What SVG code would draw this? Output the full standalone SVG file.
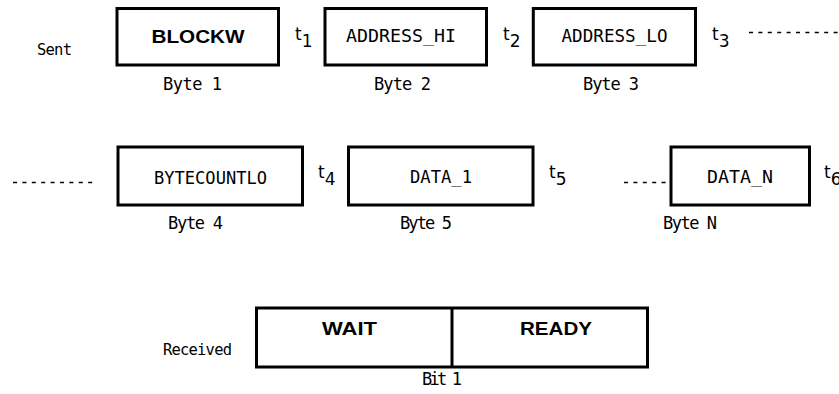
<svg xmlns="http://www.w3.org/2000/svg" width="839" height="394" viewBox="0 0 839 394">
  <style>
    .box { fill: #fff; stroke: #000; stroke-width: 3; }
    .dash { stroke: #000; stroke-width: 1.3; stroke-dasharray: 4 5.4; fill: none; }
    .lbl { font-family: "DejaVu Sans Mono", "Liberation Mono", monospace; font-size: 17px; fill: #000; }
    .side { font-family: "DejaVu Sans Mono", "Liberation Mono", monospace; font-size: 15.5px; fill: #000; }
    .in { font-family: "DejaVu Sans Mono", "Liberation Mono", monospace; font-size: 17px; fill: #000; text-anchor: middle; }
    .bold { font-family: "Liberation Sans", Arial, sans-serif; font-size: 19px; font-weight: bold; fill: #000; text-anchor: middle; }
    .t { font-family: "DejaVu Sans", "Liberation Sans", sans-serif; font-size: 17px; fill: #000; }
    .sub { font-size: 17px; }
  </style>

  <rect width="839" height="394" fill="#fff"/>

  <!-- row labels -->
  <text class="side" x="37" y="55" textLength="35">Sent</text>
  <text class="side" x="163" y="355" textLength="69">Received</text>

  <!-- sent bytes, first row -->
  <g id="byte1">
    <rect class="box" x="117" y="8.5" width="161.5" height="56.5"/>
    <text class="bold" x="198" y="43" textLength="93" lengthAdjust="spacingAndGlyphs">BLOCKW</text>
    <text class="lbl" x="163" y="90" textLength="59">Byte 1</text>
  </g>
  <g id="byte2">
    <rect class="box" x="325" y="8.5" width="161.5" height="56.5"/>
    <text class="in" x="401" y="42" textLength="110" lengthAdjust="spacingAndGlyphs">ADDRESS_HI</text>
    <text class="lbl" x="374" y="90" textLength="57">Byte 2</text>
  </g>
  <g id="byte3">
    <rect class="box" x="533.3" y="8.5" width="162.2" height="56.5"/>
    <text class="in" x="614.5" y="42" textLength="106" lengthAdjust="spacingAndGlyphs">ADDRESS_LO</text>
    <text class="lbl" x="583" y="90" textLength="56">Byte 3</text>
  </g>

  <!-- sent bytes, second row -->
  <g id="byte4">
    <rect class="box" x="118" y="147" width="184.5" height="58"/>
    <text class="in" x="210.5" y="184" textLength="113" lengthAdjust="spacingAndGlyphs">BYTECOUNTLO</text>
    <text class="lbl" x="168" y="229" textLength="55">Byte 4</text>
  </g>
  <g id="byte5">
    <rect class="box" x="348.5" y="147" width="184.5" height="58"/>
    <text class="in" x="441" y="183" textLength="62" lengthAdjust="spacingAndGlyphs">DATA_1</text>
    <text class="lbl" x="400" y="229" textLength="52">Byte 5</text>
  </g>
  <g id="byteN">
    <rect class="box" x="671" y="147" width="138.5" height="58"/>
    <text class="in" x="740" y="183" textLength="66" lengthAdjust="spacingAndGlyphs">DATA_N</text>
    <text class="lbl" x="663" y="229" textLength="54">Byte N</text>
  </g>

  <!-- received status bit -->
  <g id="bit1">
    <rect class="box" x="256.5" y="308" width="391" height="59"/>
    <line x1="452" y1="308" x2="452" y2="367" stroke="#000" stroke-width="3"/>
    <text class="bold" x="349.5" y="335" textLength="55" lengthAdjust="spacingAndGlyphs">WAIT</text>
    <text class="bold" x="556" y="335" textLength="72" lengthAdjust="spacingAndGlyphs">READY</text>
    <text class="lbl" x="422" y="385" textLength="40">Bit 1</text>
  </g>

  <!-- timing marks -->
  <g id="timing">
    <text class="t" x="295" y="40">t<tspan class="sub" dy="7">1</tspan></text>
    <text class="t" x="503" y="40">t<tspan class="sub" dy="7">2</tspan></text>
    <text class="t" x="712" y="40">t<tspan class="sub" dy="7">3</tspan></text>
    <text class="t" x="318" y="178">t<tspan class="sub" dy="7">4</tspan></text>
    <text class="t" x="549" y="178">t<tspan class="sub" dy="7">5</tspan></text>
    <text class="t" x="824" y="178">t<tspan class="sub" dy="7">6</tspan></text>
  </g>

  <!-- continuation leaders -->
  <g id="connectors">
    <line class="dash" x1="749" y1="32.5" x2="839" y2="32.5"/>
    <line class="dash" x1="13" y1="182.5" x2="97" y2="182.5"/>
    <line class="dash" x1="624" y1="182.5" x2="670" y2="182.5"/>
  </g>
</svg>
